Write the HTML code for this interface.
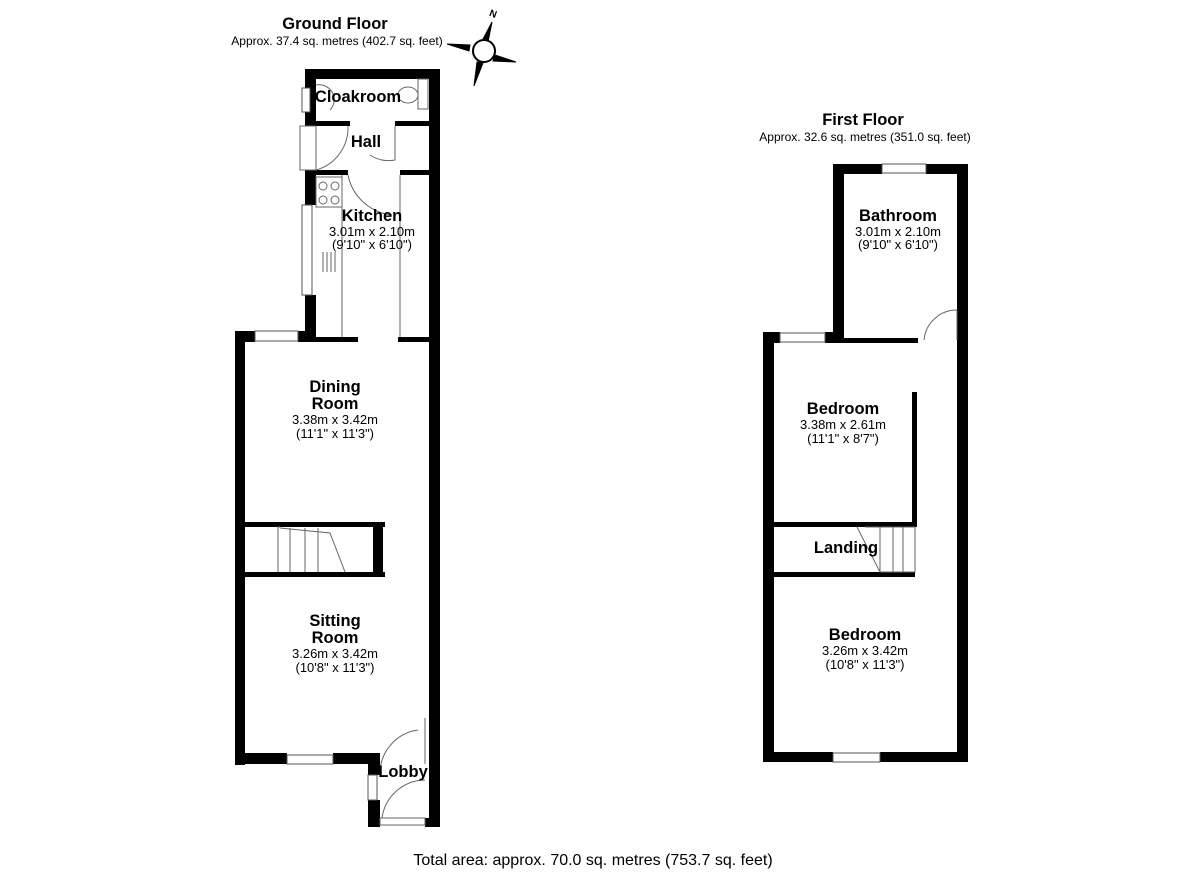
<!DOCTYPE html>
<html><head><meta charset="utf-8"><style>
body{margin:0;background:#fff;width:1200px;height:873px;overflow:hidden}
svg{display:block}
text{font-family:"Liberation Sans",sans-serif;fill:#000}
.t{font-weight:bold;font-size:16.5px}
.s{font-size:13px}
</style></head><body>
<svg width="1200" height="873" viewBox="0 0 1200 873">
<g text-anchor="middle">
<text x="335" y="29" class="t" font-size="18.5">Ground Floor</text>
<text x="337" y="45" font-size="12">Approx. 37.4 sq. metres (402.7 sq. feet)</text>
<text x="863" y="125" class="t" font-size="18.5">First Floor</text>
<text x="865" y="141" font-size="12">Approx. 32.6 sq. metres (351.0 sq. feet)</text>
<text x="593" y="865" font-size="16">Total area: approx. 70.0 sq. metres (753.7 sq. feet)</text>
</g>
<!-- compass -->
<g stroke="#000" stroke-width="1">
<polygon points="492,22 488,42 482,41" fill="#000"/>
<polygon points="516,62 495,55 493,61" fill="#000"/>
<polygon points="474,86 477,62 483,63" fill="#000"/>
<polygon points="447,44 470,45 469,51" fill="#000"/>
<circle cx="484" cy="51" r="11" fill="#fff" stroke-width="2"/>
</g>
<text x="493" y="17" font-size="10" font-weight="bold" transform="rotate(20 493 14)" text-anchor="middle">N</text>
<g fill="#000">
<rect x="305" y="69" width="135" height="10"/>
<rect x="429" y="69" width="11" height="758"/>
<rect x="305" y="69" width="11" height="57"/>
<rect x="316" y="121" width="34" height="5"/>
<rect x="395" y="121" width="34" height="5"/>
<rect x="305" y="170" width="43" height="5"/>
<rect x="400" y="170" width="29" height="5"/>
<rect x="305" y="175" width="11" height="30"/>
<rect x="305" y="295" width="11" height="45"/>
<rect x="235" y="331" width="20" height="11"/>
<rect x="298" y="331" width="18" height="11"/>
<rect x="316" y="337" width="42" height="5"/>
<rect x="398" y="337" width="31" height="5"/>
<rect x="235" y="331" width="10" height="434"/>
<rect x="245" y="522" width="140" height="5"/>
<rect x="373" y="522" width="10" height="55"/>
<rect x="245" y="572" width="140" height="5"/>
<rect x="235" y="753" width="52" height="11"/>
<rect x="333" y="753" width="47" height="11"/>
<rect x="368" y="753" width="12" height="22"/>
<rect x="368" y="800" width="12" height="27"/>
<rect x="368" y="818" width="12" height="9"/>
<rect x="425" y="818" width="15" height="9"/>
<rect x="833" y="164" width="49" height="10"/>
<rect x="926" y="164" width="42" height="10"/>
<rect x="833" y="164" width="11" height="178"/>
<rect x="957" y="164" width="11" height="598"/>
<rect x="763" y="332" width="17" height="11"/>
<rect x="825" y="332" width="19" height="11"/>
<rect x="844" y="338" width="74" height="5"/>
<rect x="763" y="332" width="11" height="430"/>
<rect x="912" y="392" width="5" height="135"/>
<rect x="774" y="522" width="143" height="5"/>
<rect x="774" y="572" width="141" height="5"/>
<rect x="763" y="752" width="70" height="10"/>
<rect x="880" y="752" width="88" height="10"/>
</g>
<g fill="#fff" stroke="#555" stroke-width="1">
<rect x="302" y="88" width="8" height="24"/>
<rect x="302" y="205" width="10" height="90"/>
<rect x="255" y="331" width="43" height="10"/>
<rect x="287" y="755" width="46" height="9"/>
<rect x="368" y="775" width="9" height="25"/>
<rect x="882" y="164" width="44" height="9"/>
<rect x="780" y="333" width="45" height="9"/>
<rect x="833" y="753" width="47" height="9"/>
</g>
<g fill="none" stroke="#666" stroke-width="1">
<rect x="300" y="126" width="16" height="44"/>
<path d="M316 170 A44 44 0 0 0 348 130 L348 126"/>
<path d="M395 126 L395 160 A34 34 0 0 1 370 155"/>
<path d="M348 175 A50 50 0 0 0 392 215"/>
<line x1="342" y1="175" x2="342" y2="337"/>
<line x1="400" y1="175" x2="400" y2="337"/>
<rect x="316" y="177" width="26" height="30"/>
<circle cx="323" cy="186" r="4"/><circle cx="335" cy="186" r="4"/>
<circle cx="323" cy="200" r="4"/><circle cx="335" cy="200" r="4"/>
<path d="M323 252 v20 M327 252 v20 M331 252 v20 M335 252 v20"/>
<path d="M418 730 A44 44 0 0 0 380 774 M425 718 L425 764"/>
<path d="M425 780 A44 44 0 0 0 382 818 L425 818 M380 818 h45 v7 h-45z"/>
<rect x="418" y="79" width="10" height="30"/>
<ellipse cx="408" cy="95" rx="10" ry="8"/>
<path d="M316 85 A15 15 0 0 1 330 110"/>
<path d="M280 527 h-2 v45 M290 528 v44 M305 528 v44 M318 528 v44 M280 528 l50 5 l15 39"/>
<path d="M957 340 L957 310 A33 33 0 0 0 924 340"/>
<path d="M865 527 L915 527 L915 572 L880 572 M880 527 v45 M893 527 v45 M903 527 v45 M857 527 L880 572"/>
</g>
<g text-anchor="middle">
<text x="358" y="102" class="t">Cloakroom</text>
<text x="366" y="147" class="t">Hall</text>
<text x="372" y="221" class="t">Kitchen</text>
<text x="372" y="236" class="s">3.01m x 2.10m</text>
<text x="372" y="249" class="s">(9'10" x 6'10")</text>
<text x="335" y="392" class="t">Dining</text>
<text x="335" y="409" class="t">Room</text>
<text x="335" y="424" class="s">3.38m x 3.42m</text>
<text x="335" y="438" class="s">(11'1" x 11'3")</text>
<text x="335" y="626" class="t">Sitting</text>
<text x="335" y="643" class="t">Room</text>
<text x="335" y="658" class="s">3.26m x 3.42m</text>
<text x="335" y="672" class="s">(10'8" x 11'3")</text>
<text x="403" y="777" class="t">Lobby</text>
<text x="898" y="221" class="t">Bathroom</text>
<text x="898" y="236" class="s">3.01m x 2.10m</text>
<text x="898" y="249" class="s">(9'10" x 6'10")</text>
<text x="843" y="414" class="t">Bedroom</text>
<text x="843" y="429" class="s">3.38m x 2.61m</text>
<text x="843" y="443" class="s">(11'1" x 8'7")</text>
<text x="846" y="553" class="t">Landing</text>
<text x="865" y="640" class="t">Bedroom</text>
<text x="865" y="655" class="s">3.26m x 3.42m</text>
<text x="865" y="669" class="s">(10'8" x 11'3")</text>
</g>
</svg>
</body></html>
